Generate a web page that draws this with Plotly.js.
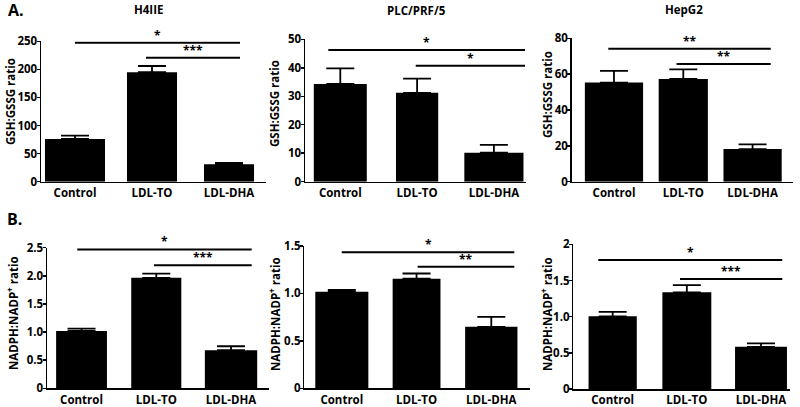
<!DOCTYPE html>
<html>
<head>
<meta charset="utf-8">
<script src="https://cdn.plot.ly/plotly-3.0.1.min.js"></script>
<style>html,body{margin:0;padding:0;background:#fff;}#chart{width:800px;height:407px;}</style>
</head>
<body>
<div id="chart"></div>
<script>
// ---- data ----
const categories = ['Control', 'LDL-TO', 'LDL-DHA'];
const cellLines = ['H4IIE', 'PLC/PRF/5', 'HepG2'];

const gshH4IIE = [76, 195, 31];
const gshH4IIEErr = [6, 11, 2.5];
const gshPLC = [34.3, 31.2, 10.2];
const gshPLCErr = [5.5, 5.0, 2.7];
const gshHepG2 = [55.3, 57.3, 18.2];
const gshHepG2Err = [6.5, 5.4, 2.6];

const nadphH4IIE = [1.02, 1.965, 0.678];
const nadphH4IIEErr = [0.04, 0.075, 0.07];
const nadphPLC = [1.018, 1.155, 0.648];
const nadphPLCErr = [0.02, 0.055, 0.105];
const nadphHepG2 = [1.005, 1.336, 0.583];
const nadphHepG2Err = [0.06, 0.10, 0.047];

const sigGshH4IIE = ['*', '***'];
const sigGshPLC = ['*', '*'];
const sigGshHepG2 = ['**', '**'];
const sigNadphH4IIE = ['*', '***'];
const sigNadphPLC = ['*', '**'];
const sigNadphHepG2 = ['*', '***'];

const gshTicks = [[0, 50, 100, 150, 200, 250], [0, 10, 20, 30, 40, 50], [0, 20, 40, 60, 80]];
const nadphTicks = [[0, 0.5, 1.0, 1.5, 2.0, 2.5], [0, 0.5, 1.0, 1.5], [0, 0.5, 1.0, 1.5, 2]];
const nadphTickText = [['0', '0.5', '1.0', '1.5', '2.0', '2.5'], ['0', '0.5', '1.0', '1.5'], ['0', '0.5', '1.0', '1.5', '2']];

// ---- layout geometry (pixels) ----
const W = 800, H = 407;
const FAM = '"Open Sans", "Noto Sans", sans-serif';
const F = (size) => ({family: FAM, size: size, color: '#000', weight: 'bold'});

const panels = [
  {vals: gshH4IIE, err: gshH4IIEErr, sig: sigGshH4IIE, ticks: gshTicks[0], tickText: gshTicks[0].map(String), ymax: 250,
   px: [41, 266], py: [41.3, 181.7], xr: [-0.4416, 2.4805], widths: [0.78, 0.65, 0.65],
   lines: [[0, 2.143, 247.5], [0.922, 2.143, 220.8]], ytitle: 'GSH:GSSG ratio', yt: [11, 102]},
  {vals: gshPLC, err: gshPLCErr, sig: sigGshPLC, ticks: gshTicks[1], tickText: gshTicks[1].map(String), ymax: 50,
   px: [305, 526], py: [39.3, 181.7], xr: [-0.4596, 2.418], widths: [0.69, 0.55, 0.77],
   lines: [[-0.156, 2.405, 46.25], [0.982, 2.405, 40.7]], ytitle: 'GSH:GSSG ratio', yt: [274, 104]},
  {vals: gshHepG2, err: gshHepG2Err, sig: sigGshHepG2, ticks: gshTicks[2], tickText: gshTicks[2].map(String), ymax: 80,
   px: [571.7, 793], py: [38.3, 181.7], xr: [-0.610, 2.583], widths: [0.84, 0.71, 0.84],
   lines: [[-0.082, 2.262, 74.2], [0.903, 2.262, 65.7]], ytitle: 'GSH:GSSG ratio', yt: [547, 95]},
  {vals: nadphH4IIE, err: nadphH4IIEErr, sig: sigNadphH4IIE, ticks: nadphTicks[0], tickText: nadphTickText[0], ymax: 2.5,
   px: [47, 269], py: [247.7, 388.3], xr: [-0.462, 2.508], widths: [0.68, 0.67, 0.70],
   lines: [[-0.057, 2.276, 2.47], [0.969, 2.276, 2.186]], ytitle: 'NADPH:NADP<sup>+</sup> ratio', yt: [12, 313]},
  {vals: nadphPLC, err: nadphPLCErr, sig: sigNadphPLC, ticks: nadphTicks[1], tickText: nadphTickText[1], ymax: 1.5,
   px: [304.3, 530], py: [246, 388.3], xr: [-0.502, 2.518], widths: [0.71, 0.64, 0.70],
   lines: [[-0.001, 2.308, 1.433], [1.015, 2.308, 1.282]], ytitle: 'NADPH:NADP<sup>+</sup> ratio', yt: [274, 314]},
  {vals: nadphHepG2, err: nadphHepG2Err, sig: sigNadphHepG2, ticks: nadphTicks[2], tickText: nadphTickText[2], ymax: 2,
   px: [573.3, 790], py: [244.3, 389], xr: [-0.531, 2.391], widths: [0.65, 0.66, 0.70],
   lines: [[-0.194, 2.287, 1.783], [0.908, 2.287, 1.52]], ytitle: 'NADPH:NADP<sup>+</sup> ratio', yt: [546, 314]}
];

const xIdx = categories.map((c, i) => i);
const data = [];
const layout = {
  width: W, height: H,
  margin: {l: 0, r: 0, t: 0, b: 0},
  paper_bgcolor: '#fff', plot_bgcolor: 'rgba(0,0,0,0)',
  showlegend: false,
  font: F(12),
  shapes: [], annotations: []
};

panels.forEach((p, i) => {
  const n = i + 1;
  const xa = 'x' + (n === 1 ? '' : n), ya = 'y' + (n === 1 ? '' : n);
  data.push({
    type: 'bar', x: xIdx, y: p.vals, width: p.widths,
    xaxis: xa, yaxis: ya,
    marker: {color: '#000', line: {width: 0}},
    error_y: {type: 'data', array: p.err, arrayminus: p.err.map(() => 0), symmetric: false,
              visible: true, color: '#000', thickness: 1.8, width: 14},
    hoverinfo: 'x+y'
  });
  const xKey = 'xaxis' + (n === 1 ? '' : n), yKey = 'yaxis' + (n === 1 ? '' : n);
  layout[xKey] = {
    domain: [p.px[0] / W, p.px[1] / W], range: p.xr, anchor: ya,
    tickvals: xIdx, ticktext: categories, ticks: '', showgrid: false, zeroline: false,
    showline: true, linecolor: '#000', linewidth: 1.5, tickfont: F(11.5), fixedrange: true
  };
  layout[yKey] = {
    domain: [(H - p.py[1]) / H, (H - p.py[0]) / H], range: [0, p.ymax], anchor: xa,
    tickvals: p.ticks, ticktext: p.tickText, ticks: 'outside', ticklen: 3, tickwidth: 1.5, tickcolor: '#000',
    ticklabelstandoff: -3,
    showgrid: false, zeroline: false, showline: true, linecolor: '#000', linewidth: 1.5,
    tickfont: F(11.5), fixedrange: true
  };
  p.lines.forEach((l, k) => {
    layout.shapes.push({type: 'line', xref: xa, yref: ya, x0: l[0], x1: l[1], y0: l[2], y1: l[2],
                        line: {color: '#000', width: 2}});
    layout.annotations.push({xref: xa, yref: ya, x: (l[0] + l[1]) / 2, y: l[2], text: p.sig[k],
                             showarrow: false, yanchor: 'bottom', yshift: -3, font: F(12)});
  });
  layout.annotations.push({xref: 'paper', yref: 'paper', x: p.yt[0] / W, y: (H - p.yt[1]) / H,
                           text: p.ytitle, textangle: -90, showarrow: false, xanchor: 'center', yanchor: 'middle',
                           font: F(11.5)});
});

// panel titles and labels
const titlePos = [[148, 10], [416.7, 11], [683.7, 10]];
cellLines.forEach((t, i) => {
  layout.annotations.push({xref: 'paper', yref: 'paper', x: titlePos[i][0] / W, y: (H - titlePos[i][1]) / H,
                           text: t, showarrow: false, xanchor: 'center', yanchor: 'middle', font: F(11.5)});
});
layout.annotations.push({xref: 'paper', yref: 'paper', x: 6 / W, y: (H - 10) / H, text: 'A.', showarrow: false,
                         xanchor: 'left', yanchor: 'middle', font: F(16)});
layout.annotations.push({xref: 'paper', yref: 'paper', x: 5 / W, y: (H - 219) / H, text: 'B.', showarrow: false,
                         xanchor: 'left', yanchor: 'middle', font: F(16)});

Plotly.newPlot('chart', data, layout, {displayModeBar: false, staticPlot: true});
</script>
</body>
</html>
